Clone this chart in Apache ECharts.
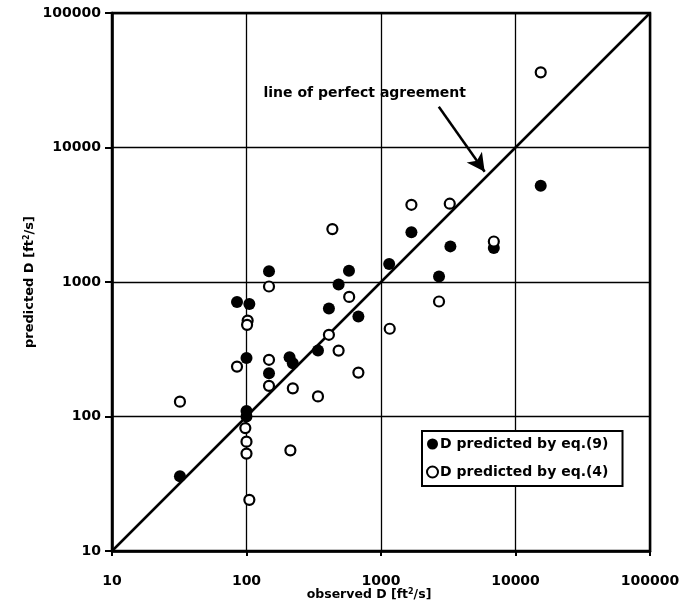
<!DOCTYPE html>
<html>
<head>
<meta charset="utf-8">
<script src="https://cdn.jsdelivr.net/npm/echarts@6/dist/echarts.min.js"></script>
<style>
html,body{margin:0;padding:0;background:#fff;}
#chart{width:686px;height:606px;}
</style>
</head>
<body>
<div id="chart"></div>
<script>
// observed D (x) and predicted D (y), eq.(9) - filled circles
const eq9X = [32, 85, 105, 100, 100, 100, 147, 147, 209, 221, 340, 410, 484, 578, 679, 1150, 1683, 2700, 3280, 6900, 15400];
const eq9Y = [36, 710, 685, 272, 110, 100, 1200, 210, 276, 249, 309, 635, 960, 1210, 554, 1360, 2340, 1100, 1840, 1790, 5200];
// eq.(4) - open circles
const eq4X = [32, 85, 102, 101, 98, 100, 100, 105, 147, 147, 147, 212, 221, 340, 410, 435, 484, 580, 679, 1161, 1683, 2700, 3245, 6900, 15400];
const eq4Y = [129, 235, 517, 480, 82, 65, 53, 24, 926, 264, 169, 56, 162, 141, 405, 2475, 309, 775, 212, 449, 3750, 716, 3820, 2000, 36200];
// line of perfect agreement
const lineX = [10, 100000];
const lineY = [10, 100000];
// annotation
const annText = 'line of perfect agreement';
const annPos = [757, 25100];
const arrowFrom = [2690, 20100];
const arrowTo = [5900, 6600];
const seriesNames = ['D predicted by eq.(9)', 'D predicted by eq.(4)'];
const xName = 'observed D [ft{sup|2}/s]';
const yName = 'predicted D [ft{sup|2}/s]';

const zip = (a, b) => a.map((v, i) => [v, b[i]]);
const FONT = 'DejaVu Sans, sans-serif';
const richSup = { sup: { fontSize: 8, fontWeight: 'bold', verticalAlign: 'top', padding: [0, 0, 6, 0], fontFamily: FONT, color: '#000' } };
const plain = v => String(Math.round(v));

const chart = echarts.init(document.getElementById('chart'), null, { renderer: 'canvas' });
chart.setOption({
  backgroundColor: '#fff',
  animation: false,
  grid: { left: 112, top: 13, right: 36, bottom: 55, containLabel: false, outerBoundsMode: 'none', show: true, borderColor: '#000', borderWidth: 2.5, backgroundColor: 'transparent' },
  legend: {
    data: seriesNames,
    orient: 'vertical',
    left: 422, top: 431,
    padding: [6, 14, 7, 4],
    itemGap: 14,
    itemWidth: 11, itemHeight: 11,
    borderColor: '#000', borderWidth: 2,
    backgroundColor: '#fff',
    textStyle: { fontFamily: FONT, fontWeight: 'bold', fontSize: 14, color: '#000', padding: [0, 0, 0, -3] }
  },
  xAxis: {
    type: 'log', logBase: 10, min: 10, max: 100000,
    name: xName, nameLocation: 'middle', nameGap: 37, nameMoveOverlap: false,
    nameTextStyle: { fontFamily: FONT, fontWeight: 'bold', fontSize: 12.5, color: '#000', rich: richSup, padding: [0, 24, 0, 0] },
    axisLine: { lineStyle: { color: '#000', width: 2.5 } },
    axisTick: { show: true, inside: false, length: 5, lineStyle: { color: '#000', width: 2 } },
    minorTick: { show: false },
    axisLabel: { fontFamily: FONT, fontWeight: 'bold', fontSize: 14, color: '#000', margin: 23, formatter: plain },
    splitLine: { show: true, lineStyle: { color: '#000', width: 1.3 } }
  },
  yAxis: {
    type: 'log', logBase: 10, min: 10, max: 100000,
    name: yName, nameLocation: 'middle', nameGap: 75, nameMoveOverlap: false,
    nameTextStyle: { fontFamily: FONT, fontWeight: 'bold', fontSize: 13, color: '#000', rich: richSup },
    axisLine: { lineStyle: { color: '#000', width: 2.5 } },
    axisTick: { show: true, inside: false, length: 7, lineStyle: { color: '#000', width: 2 } },
    axisLabel: { fontFamily: FONT, fontWeight: 'bold', fontSize: 14, color: '#000', margin: 11, formatter: plain },
    splitLine: { show: true, lineStyle: { color: '#000', width: 1.3 } }
  },
  series: [
    {
      name: 'perfect', type: 'line', data: zip(lineX, lineY), symbol: 'none', silent: true,
      lineStyle: { color: '#000', width: 2.5 }, z: 2,
      markLine: {
        silent: true, symbol: ['none', 'arrow'], symbolSize: [14, 18],
        lineStyle: { color: '#000', width: 2.5, type: 'solid' },
        label: { show: false },
        data: [[{ coord: arrowFrom }, { coord: arrowTo }]]
      }
    },
    {
      name: 'annotation', type: 'scatter', data: [annPos], symbolSize: 1, silent: true,
      itemStyle: { color: 'rgba(0,0,0,0)', opacity: 1 },
      label: { show: true, position: 'inside', formatter: annText, fontFamily: FONT, fontWeight: 'bold', fontSize: 14, color: '#000', opacity: 1 }
    },
    {
      name: seriesNames[0], type: 'scatter', data: zip(eq9X, eq9Y), symbol: 'circle', symbolSize: 12,
      itemStyle: { color: '#000', opacity: 1 }, z: 3
    },
    {
      name: seriesNames[1], type: 'scatter', data: zip(eq4X, eq4Y), symbol: 'circle', symbolSize: 10,
      itemStyle: { color: '#fff', borderColor: '#000', borderWidth: 2.2, opacity: 1 }, z: 4
    }
  ]
});
</script>
</body>
</html>
